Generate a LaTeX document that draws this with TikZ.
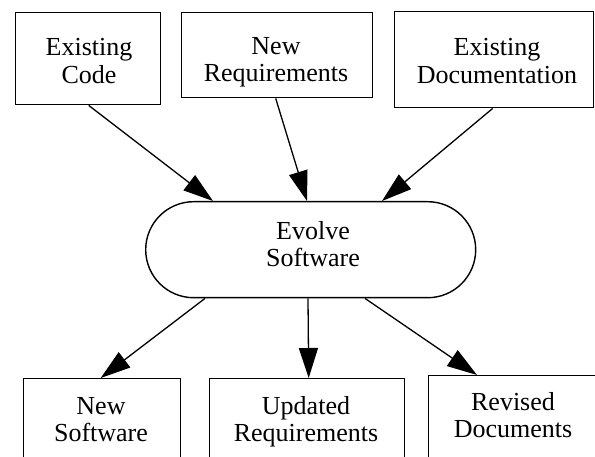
\documentclass[tikz,border=0pt]{standalone}
\usepackage{fontspec}
\setmainfont{Liberation Serif}
\usetikzlibrary{arrows.meta,calc}

% two centred lines of text
\newcommand\twolines[2]{\begin{tabular}{@{}c@{}}#1\\#2\end{tabular}}

\begin{document}
\begin{tikzpicture}[x=1pt,y=-1pt,
  box/.style={draw, line width=1.4pt, inner sep=0pt, anchor=north west},
  lbl/.style={inner sep=0pt, font=\fontsize{26}{27.5}\selectfont},
  flow/.style={line width=1.3pt, -{Triangle[length=30pt,width=19pt]}}]
  \useasboundingbox (0,0) rectangle (595,457);

  % inputs
  \node[box, minimum width=145pt, minimum height=92pt] (code) at (15,12) {};
  \node[box, minimum width=191pt, minimum height=85pt] (req) at (181,12) {};
  \node[box, minimum width=199pt, minimum height=96pt] (doc) at (394,11) {};
  \node[lbl] (codeL) at (89,64) {\twolines{Existing}{Code}};
  \node[lbl] (reqL) at (276,62.5) {\twolines{New}{Requirements}};
  \node[lbl] (docL) at (497,64) {\twolines{Existing}{Documentation}};

  % process
  \node[box, rounded corners=48pt, minimum width=330pt, minimum height=96pt] (ev) at (145,201) {};
  \node[lbl] (evL) at (313,247.5) {\twolines{Evolve}{Software}};

  % outputs (boxes run past the lower edge)
  \node[box, minimum width=157pt, minimum height=100pt] (sw) at (23,378) {};
  \node[box, minimum width=195pt, minimum height=100pt] (ureq) at (209,378) {};
  \node[box, minimum width=180pt, minimum height=100pt] (rdoc) at (428,375) {};
  \node[lbl] (swL) at (101,422.5) {\twolines{New}{Software}};
  \node[lbl] (ureqL) at (306,422.5) {\twolines{Updated}{Requirements}};
  \node[lbl] (rdocL) at (513,418.5) {\twolines{Revised}{Documents}};

  % flows in
  \draw[flow] ($(code.south)+(0.5,0)$) -- ($(ev.north west)+(68,0)$);
  \draw[flow] ($(req.south)+(-1.5,0)$) -- ($(ev.north west)+(162,0)$);
  \draw[flow] ($(doc.south)+(-1.5,0)$) -- ($(ev.north west)+(237,0)$);

  % flows out
  \draw[flow] ($(ev.south west)+(60,0)$) -- ($(sw.north)+(-1.5,0)$);
  \draw[flow] ($(ev.south west)+(163,0)$) -- ($(ureq.north)+(1.5,0)$);
  \draw[flow] ($(ev.south west)+(220,0)$) -- ($(rdoc.north west)+(49,0)$);
\end{tikzpicture}
\end{document}
